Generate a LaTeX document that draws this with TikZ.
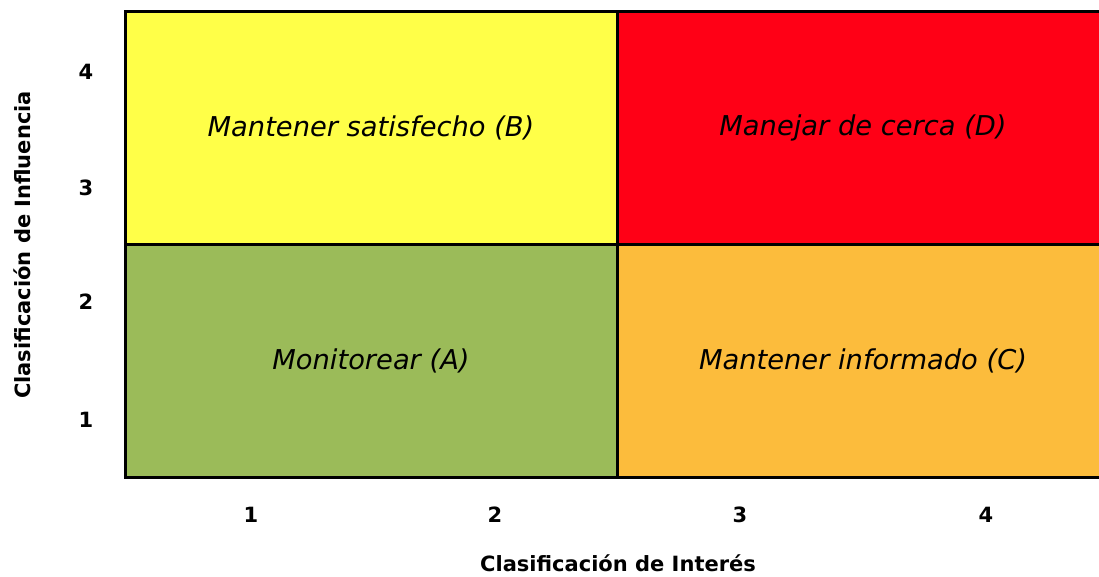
\documentclass[tikz,border=0pt]{standalone}
\usepackage{fontspec}
\usepackage{xcolor}
\usepackage{tikz}
\usetikzlibrary{positioning}
\setmainfont{DejaVu Sans}
\definecolor{quadgreen}{RGB}{155,187,89}
\definecolor{quadyellow}{RGB}{255,255,72}
\definecolor{quadred}{RGB}{255,0,22}
\definecolor{quadorange}{RGB}{252,188,60}
\tikzset{
  quad/.style={rectangle, draw=black, line width=3pt, minimum width=492pt,
    minimum height=233pt, inner sep=0pt, font=\fontsize{27.3}{31}\selectfont\itshape},
  tick/.style={font=\fontsize{21}{25}\selectfont\bfseries, inner sep=0pt},
  axis/.style={font=\fontsize{21}{25}\selectfont\bfseries, inner sep=0pt}
}
\begin{document}
\begin{tikzpicture}[x=1pt,y=-1pt]
  \useasboundingbox (0,0) rectangle (1099,577);
  \clip (0,0) rectangle (1099,577);
  % quadrants
  \node[quad, fill=quadyellow] (qb) at (371,128) {Mantener satisfecho (B)};
  \node[quad, fill=quadred] (qd) at (863,128) {Manejar de cerca (D)};
  \node[quad, fill=quadgreen] (qa) at (371,361) {Monitorear (A)};
  \node[quad, fill=quadorange] (qc) at (863,361) {Mantener informado (C)};
  % ticks
  \foreach \v/\xx in {1/251,2/495,3/740,4/986}
    \node[tick] (x\v) at (\xx,515) {\v};
  \foreach \v/\yy in {1/420,2/302,3/188,4/72}
    \node[tick] (y\v) at (86,\yy) {\v};
  % axis labels
  \node[axis] (xlab) at (618,563) {Clasificación de Interés};
  \node[axis, rotate=90] (ylab) at (22,245) {Clasificación de Influencia};
\end{tikzpicture}
\end{document}
